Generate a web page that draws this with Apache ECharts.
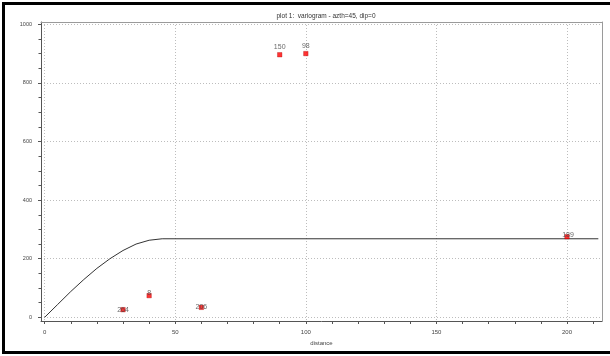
<!DOCTYPE html>
<html>
<head>
<meta charset="utf-8">
<script src="https://cdn.jsdelivr.net/npm/echarts@6/dist/echarts.min.js"></script>
<style>
  html, body { margin: 0; padding: 0; background: #fff; overflow: hidden; width: 610px; height: 356px; }
  #chart { position: absolute; left: 0; top: 0; width: 610px; height: 356px; }
  #frame { position: absolute; left: 2px; top: 2px; width: 620px; height: 346px;
           border: 3px solid #000; pointer-events: none; }
</style>
</head>
<body>
<div id="chart"></div>
<div id="frame"></div>
<script>
// Experimental variogram: lag distance, semivariance and number of pairs per lag
const lagDistance  = [30, 40, 60, 90, 100, 200];
const semivariance = [26, 74, 34, 896, 900, 275];
const pairCount    = ['264', '8', '206', '150', '98', '189'];

// Fitted model curve (sill ~268, range ~45)
const modelDistance = [0, 5, 10, 15, 20, 25, 30, 35, 40, 45, 212];
const modelGamma    = [0, 44, 88, 129, 167, 200, 228, 250, 263, 268, 268];

// Major tick values
const xTicks = [0, 50, 100, 150, 200];
const yTicks = [0, 200, 400, 600, 800, 1000];

const X_MIN = -1.4, X_MAX = 213.4;
const Y_MIN = -12.6, Y_MAX = 1007.8;

const FONT = 'Liberation Sans, Arial, sans-serif';

// How each pair-count label sits relative to its marker
const labelStyle = [
  { position: 'inside', offset: [0, 0] },
  { position: 'inside', offset: [0, -3] },
  { position: 'inside', offset: [0, 0] },
  { position: 'top', distance: 1.5 },
  { position: 'top', distance: 2 },
  { position: 'inside', offset: [1, -2] }
];

const points = lagDistance.map((x, i) => ({
  value: [x, semivariance[i]],
  name: pairCount[i],
  label: labelStyle[i]
}));
const curve = modelDistance.map((x, i) => [x, modelGamma[i]]);

const gridLine = { show: true, lineStyle: { color: '#bdbdbd', width: 1, type: [1, 2] } };
const plain = v => String(v);

const chart = echarts.init(document.getElementById('chart'), null, { renderer: 'canvas' });
chart.setOption({
  animation: false,
  backgroundColor: '#fff',
  title: {
    text: 'plot 1:  variogram - azth=45, dip=0',
    left: 321,
    textAlign: 'center',
    top: 8,
    textStyle: { fontFamily: FONT, fontSize: 6.5, fontWeight: 'normal', color: '#333' }
  },
  grid: { left: 41, right: 8, top: 22, bottom: 35 },
  xAxis: [
    {
      type: 'value', min: X_MIN, max: X_MAX, splitNumber: 4,
      name: 'distance', nameLocation: 'middle', nameGap: 17,
      nameTextStyle: { fontFamily: FONT, fontSize: 6, color: '#444' },
      axisLine: { show: true, onZero: false, lineStyle: { color: '#555', width: 1 } },
      axisTick: { show: true, inside: false, length: 3, customValues: xTicks, lineStyle: { color: '#555' } },
      minorTick: { show: true, splitNumber: 5, length: 3, lineStyle: { color: '#555' } },
      axisLabel: { customValues: xTicks, formatter: plain, margin: 8, fontFamily: FONT, fontSize: 6, color: '#444' },
      splitLine: gridLine
    },
    {
      type: 'value', position: 'top', min: X_MIN, max: X_MAX,
      axisLine: { show: true, onZero: false, lineStyle: { color: '#9a9a9a', width: 1 } },
      axisTick: { show: false }, axisLabel: { show: false }, splitLine: { show: false }
    }
  ],
  yAxis: [
    {
      type: 'value', min: Y_MIN, max: Y_MAX, splitNumber: 5,
      axisLine: { show: true, onZero: false, lineStyle: { color: '#555', width: 1 } },
      axisTick: { show: true, inside: false, length: 3, customValues: yTicks, lineStyle: { color: '#555' } },
      minorTick: { show: true, splitNumber: 4, length: 2.5, lineStyle: { color: '#555' } },
      axisLabel: { customValues: yTicks, formatter: plain, margin: 9, fontFamily: FONT, fontSize: 5.5, color: '#444' },
      splitLine: gridLine
    },
    {
      type: 'value', position: 'right', min: Y_MIN, max: Y_MAX,
      axisLine: { show: true, onZero: false, lineStyle: { color: '#9a9a9a', width: 1 } },
      axisTick: { show: false }, axisLabel: { show: false }, splitLine: { show: false }
    }
  ],
  series: [
    {
      type: 'line',
      data: curve,
      showSymbol: false,
      symbol: 'none',
      lineStyle: { color: '#333', width: 1 },
      z: 2
    },
    {
      type: 'scatter',
      data: points,
      symbol: 'rect',
      symbolSize: 4.5,
      itemStyle: { color: '#ff0000', borderColor: '#a00000', borderWidth: 0.4 },
      label: {
        show: true,
        formatter: p => p.name,
        fontFamily: FONT,
        fontSize: 7,
        color: '#444'
      },
      z: 3
    }
  ]
});
</script>
</body>
</html>
